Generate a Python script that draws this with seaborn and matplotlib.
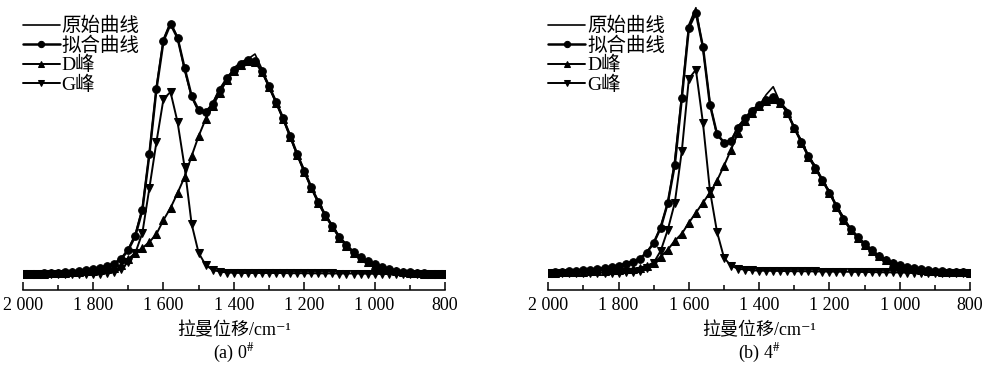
import matplotlib
matplotlib.use('Agg')
import matplotlib.pyplot as plt
from matplotlib.ticker import MultipleLocator
import seaborn as sns

# --- DATA (Raman shift, intensity in arbitrary units) ---
shift = [2000, 1980, 1960, 1940, 1920, 1900, 1880, 1860, 1840, 1820, 1800,
         1780, 1760, 1740, 1720, 1700, 1680, 1660, 1640, 1620, 1600,
         1580, 1560, 1540, 1520, 1500, 1480, 1460, 1440, 1420, 1400,
         1380, 1360, 1340, 1320, 1300, 1280, 1260, 1240, 1220, 1200,
         1180, 1160, 1140, 1120, 1100, 1080, 1060, 1040, 1020, 1000,
         980, 960, 940, 920, 900, 880, 860, 840, 820, 800]

# sample 0#
raw_a = [0.5, 0, 1, 0.5, 1.5, 1, 2.5, 2, 3.5, 4, 5.5,
         7, 8, 11, 16, 25, 40, 66, 121, 187, 235,
         252, 237, 204, 177, 162, 161, 171, 186, 194, 206,
         212, 215, 220, 205, 186, 173, 155, 139, 119, 104,
         86, 73, 58, 49, 36, 30, 21, 18, 12, 10,
         7.5, 4.5, 4, 2, 2.5, 1, 1.5, 0, 1, 0]
fit_a = [0, 0, 0.5, 1, 1, 1.5, 2, 2.5, 3, 4, 5,
         6, 8, 10, 15, 24, 38, 64, 120, 185, 233,
         250, 236, 206, 178, 164, 162, 170, 184, 196, 204,
         210, 214, 213, 203, 188, 172, 156, 138, 120, 103,
         87, 72, 59, 48, 37, 29, 22, 17, 13, 10,
         7, 5, 3.5, 2.5, 2, 1.5, 1, 0.5, 0.5, 0]
d_a = [0, 0, 0.5, 0.5, 1, 1, 1.5, 2, 2.5, 3, 3.5,
       4, 5, 6, 9, 15, 21, 26, 32, 40, 54,
       66, 81, 97, 118, 138, 155, 168, 181, 194, 203,
       209, 213, 212, 202, 187, 171, 155, 137, 119, 102,
       86, 71, 58, 47, 36, 28, 21, 16, 12, 9,
       6, 4, 3, 2, 1.5, 1, 0.5, 0.5, 0, 0]
g_a = [0, 0, 0, 0, 0, 0, 0, 0, 0, 0, 0,
       0.5, 1, 2, 5, 12, 21, 41, 86, 132, 175,
       182, 152, 107, 50, 21, 9, 4, 2.5, 1.5, 1.2,
       1, 1, 1, 1, 1, 1, 1, 0.8, 0.8, 0.8,
       0.7, 0.7, 0.6, 0.6, 0.5, 0.5, 0.5, 0.4, 0.3, 0.2,
       0, 0, 0, 0, 0, 0, 0, 0, 0, 0]

# sample 4#
raw_b = [0.5, 0, 1.5, 1, 2.5, 2, 3.5, 3.5, 5.5, 5.5, 8,
         8.5, 12, 13, 21, 29, 47, 69, 113, 178, 248,
         265, 224, 170, 137, 131, 131, 147, 153, 164, 167,
         178, 186, 170, 163, 143, 133, 116, 107, 91, 82,
         66, 56, 43, 37, 28, 24, 16, 14, 9, 8.5,
         5, 5, 3, 3.5, 1.5, 2, 0.5, 1.5, 0, 0.5]
fit_b = [0, 0.5, 1, 1.5, 2, 2.5, 3, 4, 5, 6, 7,
         9, 11, 14, 20, 30, 45, 70, 108, 175, 245,
         260, 226, 168, 139, 130, 132, 145, 155, 162, 168,
         173, 176, 171, 160, 145, 131, 117, 105, 93, 80,
         67, 54, 44, 36, 29, 23, 17, 13, 10, 8,
         6, 4.5, 3.5, 3, 2, 1.5, 1, 1, 0.5, 0]
d_b = [0, 0, 0.5, 0.5, 1, 1, 1.5, 2, 2, 2.5, 3,
       3.5, 4, 5, 7, 10, 16, 23, 32, 39, 50,
       60, 70, 80, 92, 107, 123, 140, 152, 160, 167,
       172, 174, 170, 160, 145, 130, 116, 104, 92, 80,
       66, 53, 43, 35, 28, 22, 17, 13, 10, 7,
       5, 4, 3, 2, 1.5, 1, 1, 0.5, 0.5, 0]
g_b = [0, 0, 0, 0, 0, 0, 0, 0, 0, 0, 0,
       0.5, 1, 2, 5, 10, 22, 43, 70, 122, 194,
       203, 150, 82, 41, 15, 7, 4, 3, 2.5, 2,
       2, 1.8, 1.8, 1.6, 1.5, 1.5, 1.4, 1.3, 1.2, 1.1,
       1, 1, 0.9, 0.8, 0.7, 0.6, 0.5, 0.4, 0.3, 0.2,
       0, 0, 0, 0, 0, 0, 0, 0, 0, 0]

tick_vals = [2000, 1800, 1600, 1400, 1200, 1000, 800]
tick_labels = ['2 000', '1 800', '1 600', '1 400', '1 200', '1 000', '800']
legend_names = ['原始曲线', '拟合曲线', 'D峰', 'G峰']
x_title = '拉曼位移/cm⁻¹'
subtitles = ['(a) 0$^{\\#}$', '(b) 4$^{\\#}$']

# --- STYLE ---
sns.set_style('ticks')
plt.rcParams['font.family'] = ['Liberation Serif', 'Noto Sans CJK SC', 'DejaVu Serif']
plt.rcParams['mathtext.fontset'] = 'stix'
plt.rcParams['text.color'] = 'k'
plt.rcParams['axes.labelcolor'] = 'k'
plt.rcParams['xtick.color'] = 'k'
plt.rcParams['axes.edgecolor'] = 'k'

fig = plt.figure(figsize=(10, 3.72), dpi=100)
ax_a = fig.add_axes([0.0227, 0.2204, 0.4223, 0.7661])
ax_b = fig.add_axes([0.5483, 0.2204, 0.4217, 0.7661])


def draw_panel(ax, raw, fit, d, g, title, ylim):
    sns.lineplot(x=shift, y=raw, ax=ax, color='k', linewidth=1.2,
                 label=legend_names[0])
    sns.lineplot(x=shift, y=fit, ax=ax, color='k', linewidth=1.8, marker='o',
                 markersize=5.5, markeredgecolor='k', label=legend_names[1])
    sns.lineplot(x=shift, y=d, ax=ax, color='k', linewidth=1.4, marker='^',
                 markersize=6, markeredgecolor='k', label=legend_names[2])
    sns.lineplot(x=shift, y=g, ax=ax, color='k', linewidth=1.4, marker='v',
                 markersize=6, markeredgecolor='k', label=legend_names[3])

    ax.set_xlim(2000, 800)
    ax.set_ylim(*ylim)
    ax.set_yticks([])
    ax.set_ylabel('')
    for side in ['left', 'top', 'right']:
        ax.spines[side].set_visible(False)
    ax.spines['bottom'].set_linewidth(1.1)

    ax.set_xticks(tick_vals, tick_labels)
    ax.xaxis.set_minor_locator(MultipleLocator(100))
    ax.tick_params(axis='x', which='major', direction='in', length=6,
                   width=1.1, labelsize=13, pad=5)
    ax.tick_params(axis='x', which='minor', direction='in', length=3.5,
                   width=1.1)
    ax.set_xlabel(x_title, fontsize=13, labelpad=6)
    ax.text(0.5, -0.221, title, transform=ax.transAxes, ha='center',
            va='center', fontsize=13)

    leg = ax.legend(loc='upper left', bbox_to_anchor=(0.0, 0.958), frameon=False,
                    fontsize=14, handlelength=1.9, handletextpad=0.1,
                    labelspacing=0.06, borderaxespad=0, borderpad=0)
    for h in leg.legend_handles:
        h.set_markersize(4.5)


draw_panel(ax_a, raw_a, fit_a, d_a, g_a, subtitles[0], (-16, 269))
draw_panel(ax_b, raw_b, fit_b, d_b, g_b, subtitles[1], (-17.3, 267.7))

fig.savefig('out.png', dpi=100)
